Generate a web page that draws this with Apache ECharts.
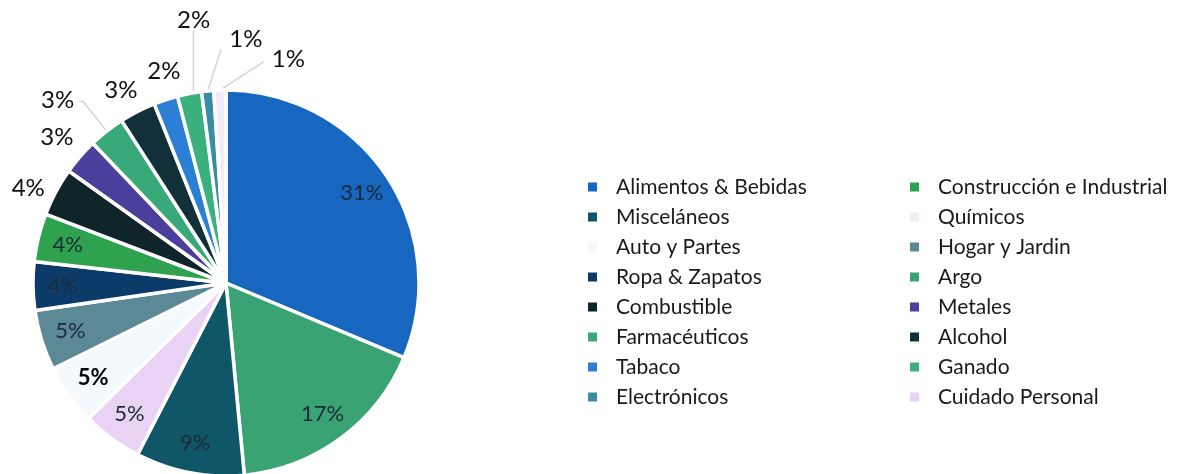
<!DOCTYPE html>
<html>
<head>
<meta charset="utf-8">
<script src="https://cdn.jsdelivr.net/npm/echarts@6/dist/echarts.min.js"></script>
<style>
html,body{margin:0;padding:0;background:#fff;}
#chart{width:1188px;height:474px;}
</style>
</head>
<body>
<div id="chart"></div>
<script>
// Slices, clockwise from 12 o'clock
const categories = ['Alimentos & Bebidas','Argo','Misceláneos','Cuidado Personal','Auto y Partes','Hogar y Jardin','Ropa & Zapatos','Construcción e Industrial','Combustible','Metales','Farmacéuticos','Alcohol','Tabaco','Ganado','Electrónicos','Químicos'];
const values = [31,17,9,5,5,5,4,4,4,3,3,3,2,2,1,1];
const palette = ['#1766bf','#3aa373','#0e5668','#e8d3f4','#f3f9fc','#5b8995','#0c3b69','#2ea24f','#0f2529','#4b3f9c','#3aa97a','#11303a','#2b80d6','#3bb07f','#3a8ca6','#f1ecf8'];
const labelInside = [true,true,true,true,true,true,true,true,false,false,false,false,false,false,false,false];
const legendCol1 = ['Alimentos & Bebidas','Misceláneos','Auto y Partes','Ropa & Zapatos','Combustible','Farmacéuticos','Tabaco','Electrónicos'];
const legendCol2 = ['Construcción e Industrial','Químicos','Hogar y Jardin','Argo','Metales','Alcohol','Ganado','Cuidado Personal'];

// outer label styling per slice: [radial line length, horizontal length, show line, dx, dy, line end mode]
const outerStyle = {
  'Combustible':   [8, 4, false, 5, 0, null],
  'Metales':       [30, 0, false, 21, 0, null],
  'Farmacéuticos': [38, 4, true, 0, -1, null],
  'Alcohol':       [22, 0, false, 15, -2, null],
  'Tabaco':        [30, 0, false, 29, 0, null],
  'Ganado':        [65, 0, true, 38, -9, 'bottom'],
  'Electrónicos':  [45, 0, true, 64, -7, 'leftBottom'],
  'Químicos':      [30, 0, true, 91, -1, 'left']
};

const FONT = 'Lato';
const chart = echarts.init(document.getElementById('chart'), null, {renderer:'canvas'});

const mainData = categories.map((n,i)=>{
  const s = outerStyle[n];
  return {
    name:n, value:values[i],
    itemStyle:{color:palette[i]},
    label:{show:!labelInside[i]},
    labelLine: s ? {show:s[2], length:s[0], length2:s[1]} : {show:false}
  };
});
const overlayData = categories.map((n,i)=>({
  name:n, value:values[i],
  itemStyle:{color:'rgba(0,0,0,0)', borderWidth:0},
  label:{show:labelInside[i], fontWeight: n==='Auto y Partes' ? 'bold':'normal', color: n==='Auto y Partes' ? '#000' : '#1c2a38'}
}));

const legendCommon = {
  orient:'vertical', top:171, icon:'rect', itemWidth:11, itemHeight:11, itemGap:8,
  selectedMode:false,
  textStyle:{fontFamily:FONT, fontSize:21, color:'#1a1a1a', lineHeight:22, padding:[0,0,0,13]}
};

function layoutOuter(params){
  const n = categories[params.dataIndex];
  const s = outerStyle[n];
  if (!s) return {};
  const dx = s[3], dy = s[4];
  const r = params.labelRect;
  const nx = r.x + dx, ny = r.y + dy;
  const res = {dx:dx, dy:dy};
  if (s[2] && s[5] && params.labelLinePoints) {
    const p0 = params.labelLinePoints[0];
    let end;
    if (s[5]==='bottom') end = [p0[0] + 4, ny + r.height - 2];
    else if (s[5]==='leftBottom') end = [nx - 8, ny + r.height - 2];
    else end = [nx - 8, ny + r.height*0.6];
    res.labelLinePoints = [[p0[0] + (s[5]==='bottom' ? 4 : 0), p0[1]], end];
  }
  return res;
}

chart.setOption({
  animation:false,
  backgroundColor:'#fff',
  legend:[
    Object.assign({left:581, data:legendCol1}, legendCommon),
    Object.assign({left:903, data:legendCol2}, legendCommon)
  ],
  series:[
    {
      type:'pie', center:[226,283], radius:[0,193], startAngle:90, clockwise:true,
      avoidLabelOverlap:false, silent:true,
      itemStyle:{borderColor:'#fff', borderWidth:3.5},
      label:{position:'outside', formatter:'{c}%', fontFamily:FONT, fontSize:24, color:'#111'},
      labelLine:{lineStyle:{color:'#d4d4d4', width:1.5}},
      labelLayout:layoutOuter,
      data:mainData
    },
    {
      type:'pie', center:[226,283], radius:[130,190], startAngle:90, clockwise:true,
      silent:true, legendHoverLink:false,
      label:{position:'inside', formatter:'{c}%', fontFamily:FONT, fontSize:22},
      labelLine:{show:false},
      data:overlayData
    }
  ]
});
</script>
</body>
</html>
